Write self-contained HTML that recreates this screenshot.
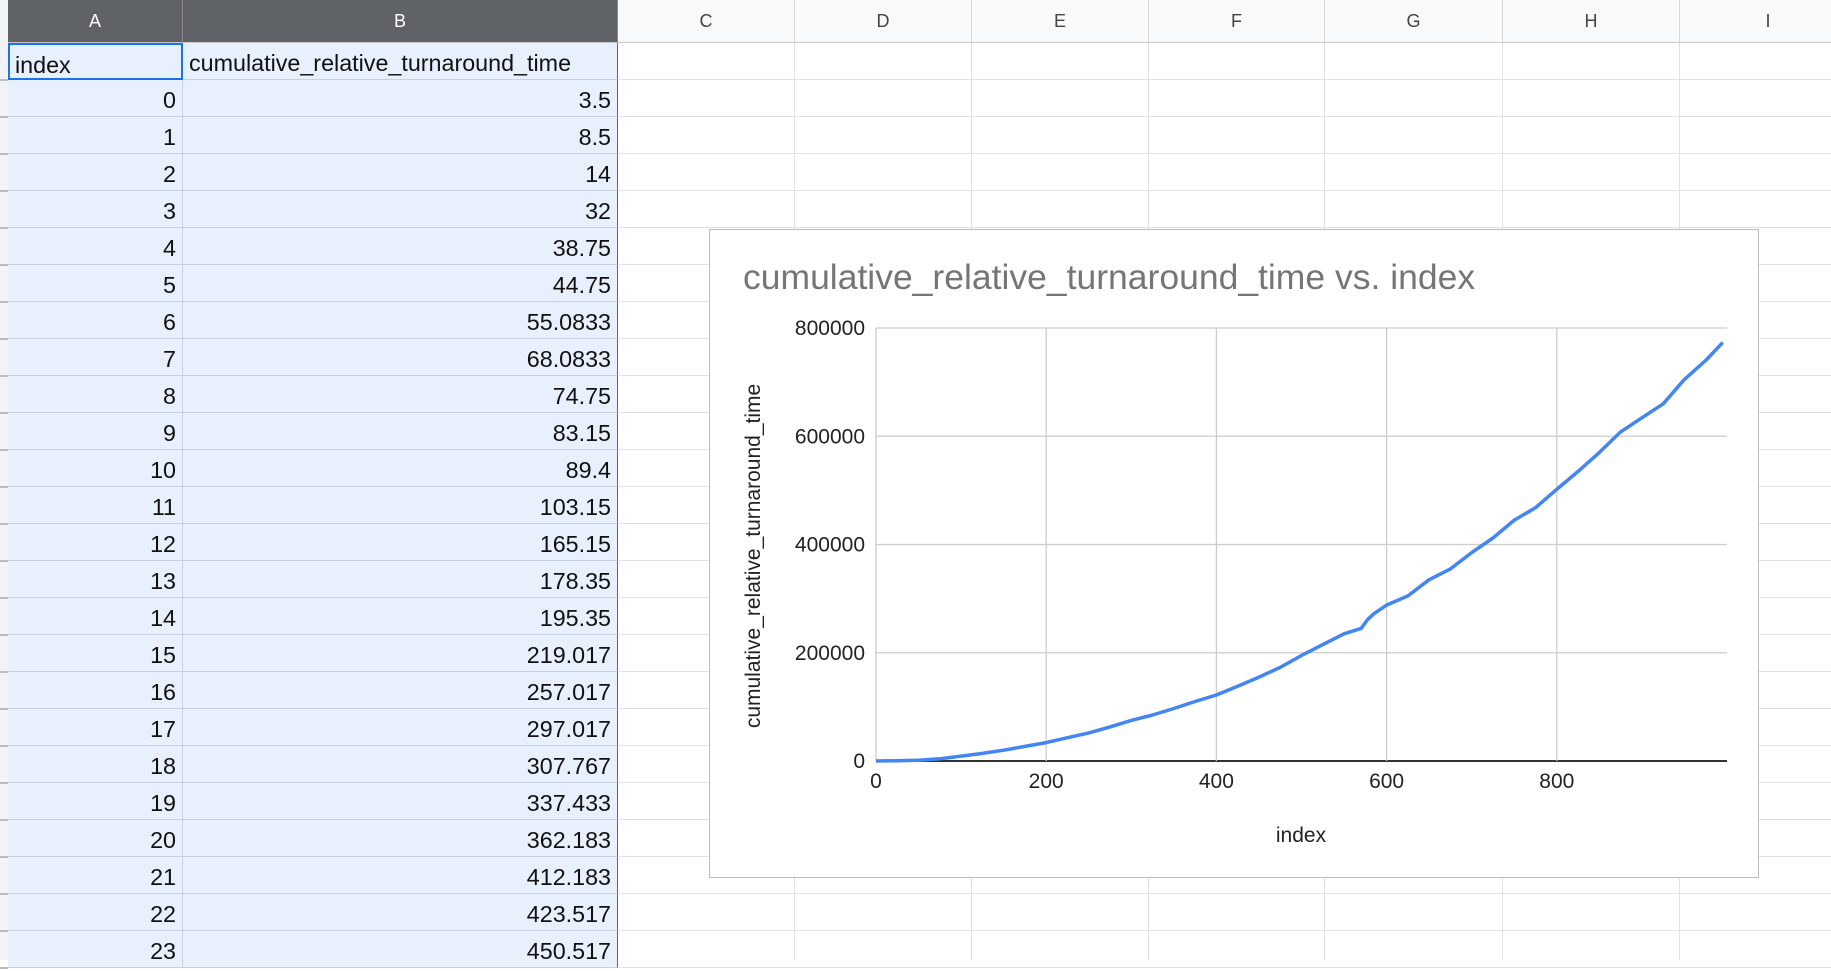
<!DOCTYPE html>
<html><head><meta charset="utf-8">
<style>
body{margin:0;width:1831px;height:960px;overflow:hidden;background:#fff;font-family:"Liberation Sans",Arial,sans-serif;position:relative}
.abs{position:absolute}
.ch{position:absolute;top:0;height:43px;line-height:43px;text-align:center;font-size:18px;color:#444;border-right:1px solid #d6d6d6;border-bottom:1px solid #c8c8c8;box-sizing:border-box;background:#f8f9fa}
.ch.sel{background:#5f6368;color:#fff;border-right:1px solid #888}
.cell{position:absolute;height:37px;line-height:40px;font-size:23.3px;color:#111;box-sizing:border-box;border-bottom:1px solid #c9d1de;border-right:1px solid #c9d1de;background:#e8f0fe;text-align:right;padding-right:6px}
</style></head><body>
<div id="sheet"></div>
<div class="abs" style="left:709px;top:229px;width:1050px;height:649px;background:#fff;border:1px solid #bdbdbd;box-sizing:border-box"></div>
<svg id="chart" class="abs" style="left:0;top:0" width="1831" height="960"></svg>
<script>
const xTicks=[0,200,400,600,800];
const yTicks=[0,200000,400000,600000,800000];
const idx=[0,25,50,75,100,125,150,175,200,225,250,275,300,325,350,375,400,425,450,475,500,525,550,570,578,585,600,625,650,675,700,725,750,775,800,825,850,875,900,925,950,975,995];
const vals=[0,500,1500,4000,9000,14000,20000,27000,34000,43000,52000,63000,75000,85000,97000,110000,122000,138000,155000,173000,195000,215000,235000,245000,262000,272000,288000,305000,335000,355000,385000,412000,445000,468000,502000,535000,570000,608000,634000,660000,705000,740000,773000];

const sheet=document.getElementById('sheet');
const cols=[['A',8,183],['B',183,618],['C',618,795],['D',795,972],['E',972,1149],['F',1149,1325],['G',1325,1503],['H',1503,1680],['I',1680,1857]];
const rowH=37, top0=43;
const rn=document.createElement('div');rn.className='abs';rn.style.cssText='left:0;top:0;width:8px;height:960px;background:#f1f3f4;border-right:1px solid #ccc';


sheet.appendChild(rn);
cols.forEach(c=>{
 const d=document.createElement('div');d.className='ch'+(c[0]<'C'?' sel':'');
 d.style.left=c[1]+'px';d.style.width=(c[2]-c[1])+'px';d.textContent=c[0];
 
 
 sheet.appendChild(d);
});
const bvals=['3.5','8.5','14','32','38.75','44.75','55.0833','68.0833','74.75','83.15','89.4','103.15','165.15','178.35','195.35','219.017','257.017','297.017','307.767','337.433','362.183','412.183','423.517','450.517'];
for(let r=0;r<25;r++){
 const y=top0+rowH*(r+1);
 const l=document.createElement('div');l.className='abs';l.style.cssText=`left:618px;top:${y-1}px;width:1213px;height:1px;background:#e2e2e2`;
 
 
 sheet.appendChild(l);
 const t=document.createElement('div');t.className='abs';t.style.cssText=`left:0;top:${y-1}px;width:8px;height:2px;background:#bbb`;
 
 
 sheet.appendChild(t);
}
for(let i=2;i<cols.length;i++){
 const l=document.createElement('div');l.className='abs';l.style.cssText=`left:${cols[i][2]-1}px;top:43px;width:1px;height:917px;background:#e2e2e2`;
 
 
 sheet.appendChild(l);
}
for(let r=0;r<25;r++){
 const y=top0+rowH*r;
 const a=document.createElement('div');a.className='cell';
 a.style.cssText+=`left:8px;top:${y}px;width:175px;`;
 a.textContent=r==0?'index':String(r-1);
 if(r==0){a.style.textAlign='left';a.style.paddingLeft='5px';a.style.border='2px solid #1a73e8';}
 
 
 sheet.appendChild(a);
 const b=document.createElement('div');b.className='cell';
 b.style.cssText+=`left:183px;top:${y}px;width:435px;border-right:1px solid #1a73e8;`;
 b.textContent=r==0?'cumulative_relative_turnaround_time':bvals[r-1];
 if(r==0){b.style.textAlign='left';b.style.paddingLeft='6px';}
 
 
 sheet.appendChild(b);
}

const svg=document.getElementById('chart');const NS='http://www.w3.org/2000/svg';
const X0=876,X1=1727,Y0=761,Y1=328;
const xs=v=>X0+(v/1000)*(X1-X0);
const ys=v=>Y0-(v/800000)*(Y0-Y1);
function el(t,a,txt){const e=document.createElementNS(NS,t);for(const k in a)e.setAttribute(k,a[k]);if(txt!=null)e.textContent=txt;svg.appendChild(e);return e;}
const title=el('text',{x:743,y:289,'font-size':35.5,fill:'#757575','font-family':'Liberation Sans, Arial, sans-serif'},'cumulative_relative_turnaround_time vs. index');


yTicks.forEach(v=>{
 const g=el('line',{x1:X0,x2:X1,y1:ys(v),y2:ys(v),stroke:v==0?'#333':'#ccc','stroke-width':v==0?2:1.3});
 
 
 const t=el('text',{x:X0-11,y:ys(v)+7,'text-anchor':'end','font-size':21,fill:'#222'},String(v));
 
 
});
xTicks.forEach(v=>{
 if(v>0){const g=el('line',{x1:xs(v),x2:xs(v),y1:Y1,y2:Y0,stroke:'#ccc','stroke-width':1.3});
 
 }
 const t=el('text',{x:xs(v),y:Y0+27,'text-anchor':'middle','font-size':21,fill:'#222'},String(v));
 
 
});
const ax=el('line',{x1:X0,x2:X0,y1:Y1,y2:Y0,stroke:'#ccc','stroke-width':1.3});


const d=idx.map((v,i)=>(i?'L':'M')+xs(v).toFixed(1)+','+ys(vals[i]).toFixed(1)).join('');
const p=el('path',{d:d,fill:'none',stroke:'#4285f4','stroke-width':3.5,'stroke-linejoin':'round'});


const xt=el('text',{x:1301,y:842,'text-anchor':'middle','font-size':21,fill:'#222'},'index');


const yt=el('text',{x:0,y:0,'text-anchor':'middle','font-size':21,fill:'#222',transform:'translate(760,556) rotate(-90)'},'cumulative_relative_turnaround_time');


</script>
</body></html>
